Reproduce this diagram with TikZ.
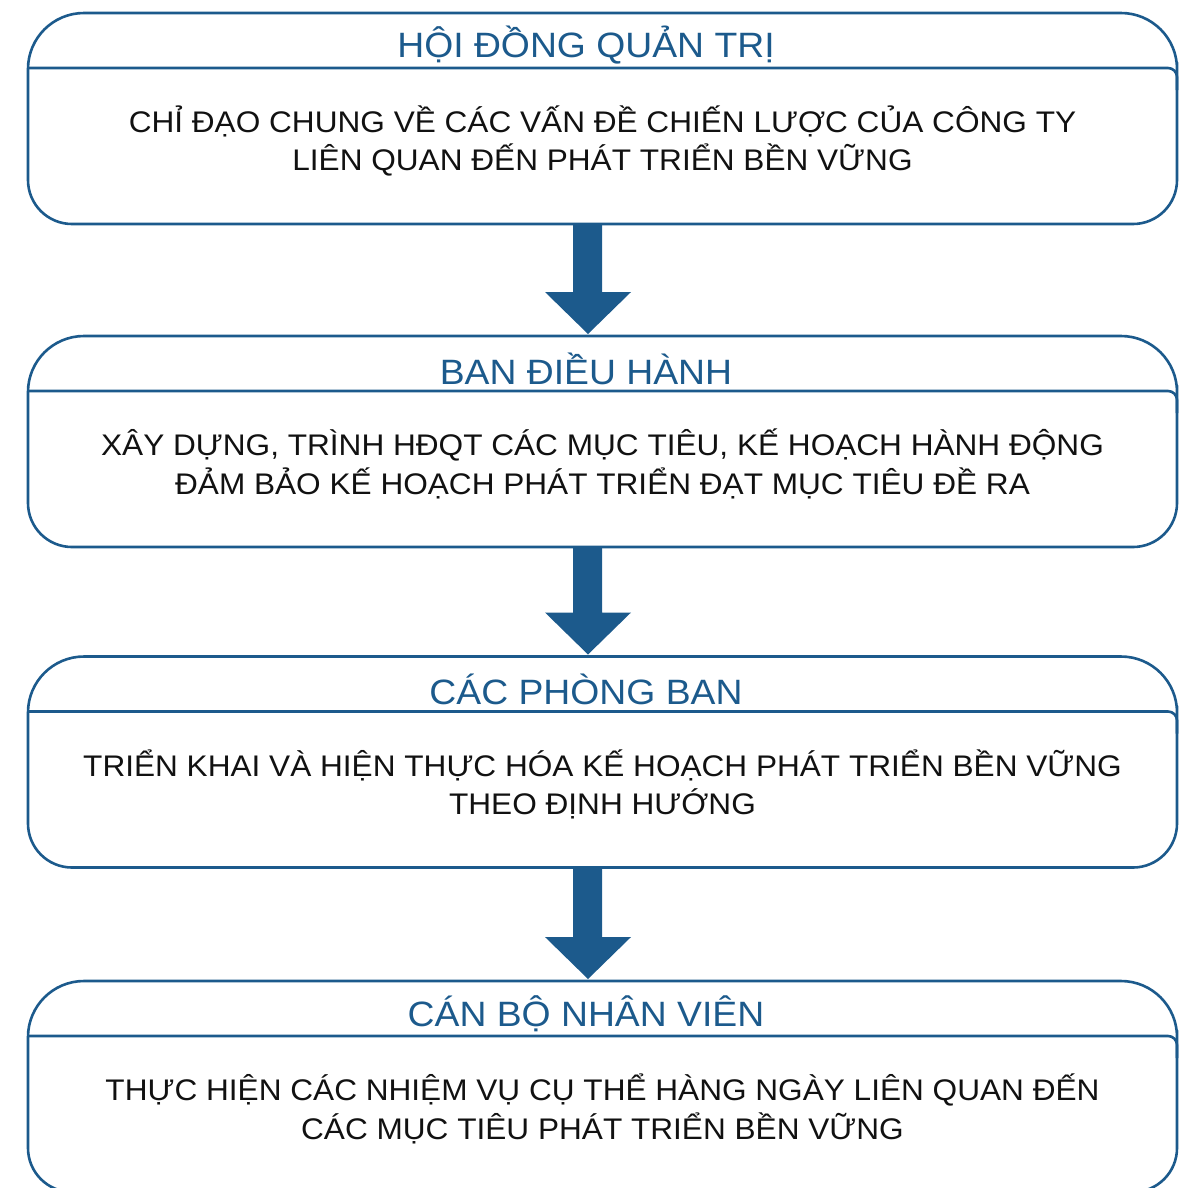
\documentclass[tikz,border=0pt]{standalone}
\usepackage{fontspec}
\setmainfont{Liberation Sans}[FakeStretch=1.06]
\usetikzlibrary{calc}
\definecolor{navy}{RGB}{28,90,140}
\definecolor{ink}{RGB}{17,17,17}
\tikzset{
  x=1pt, y=1pt,
  boxarea/.style={minimum width=1149pt, minimum height=211pt, inner sep=0pt, outer sep=0pt},
  boxline/.style={draw=navy, line width=2.6pt, line join=round},
  titletext/.style={text=navy, font=\fontsize{35.2}{40}\selectfont, inner sep=0pt},
  bodytext/.style={text=ink, font=\fontsize{29.8}{38.5}\selectfont, align=center, inner sep=0pt},
  blockarrow/.style={fill=navy}
}
\newcommand{\swimbox}[4]{% name, center y (positive px), title, body
  \node[boxarea] (#1) at (602.5,-#2) {};
  \draw[boxline] (#1.north) [rounded corners=56pt] -| (#1.east) [rounded corners=44pt] |- (#1.south) -| (#1.west) [rounded corners=56pt] |- (#1.north);
  \coordinate (#1dl) at ($(#1.north west)+(0,-55)$);
  \coordinate (#1dr) at ($(#1.north east)+(0,-55)$);
  \draw[boxline] (#1dl) [rounded corners=9pt] -| ($(#1dr)+(0,-22)$);
  \node[titletext] (#1t) at ($(#1.north)+(-16.5,-32.5)$) {#3};
  \node[bodytext] (#1b) at ($(#1.south)+(0,83)$) {#4};
}
\begin{document}
\begin{tikzpicture}
\useasboundingbox (0,0) rectangle (1198,-1187);
\swimbox{b1}{118.5}{HỘI ĐỒNG QUẢN TRỊ}{CHỈ ĐẠO CHUNG VỀ CÁC VẤN ĐỀ CHIẾN LƯỢC CỦA CÔNG TY\\LIÊN QUAN ĐẾN PHÁT TRIỂN BỀN VỮNG}
\swimbox{b2}{441.5}{BAN ĐIỀU HÀNH}{XÂY DỰNG, TRÌNH HĐQT CÁC MỤC TIÊU, KẾ HOẠCH HÀNH ĐỘNG\\ĐẢM BẢO KẾ HOẠCH PHÁT TRIỂN ĐẠT MỤC TIÊU ĐỀ RA}
\swimbox{b3}{762}{CÁC PHÒNG BAN}{TRIỂN KHAI VÀ HIỆN THỰC HÓA KẾ HOẠCH PHÁT TRIỂN BỀN VỮNG\\THEO ĐỊNH HƯỚNG}
\swimbox{b4}{1086.5}{CÁN BỘ NHÂN VIÊN}{THỰC HIỆN CÁC NHIỆM VỤ CỤ THỂ HÀNG NGÀY LIÊN QUAN ĐẾN\\CÁC MỤC TIÊU PHÁT TRIỂN BỀN VỮNG}
\foreach \src/\dst in {b1/b2, b2/b3, b3/b4}{
  \fill[blockarrow] let \p1=(\src.south), \p2=(\dst.north) in
    (\x1-29.5,\y1) -- (\x1-0.5,\y1) -- (\x1-0.5,\y2+44) -- (\x1+28.5,\y2+44)
    -- (\x1-14.5,\y2+2) -- (\x1-57.5,\y2+44) -- (\x1-29.5,\y2+44) -- cycle;
}
\end{tikzpicture}
\end{document}
